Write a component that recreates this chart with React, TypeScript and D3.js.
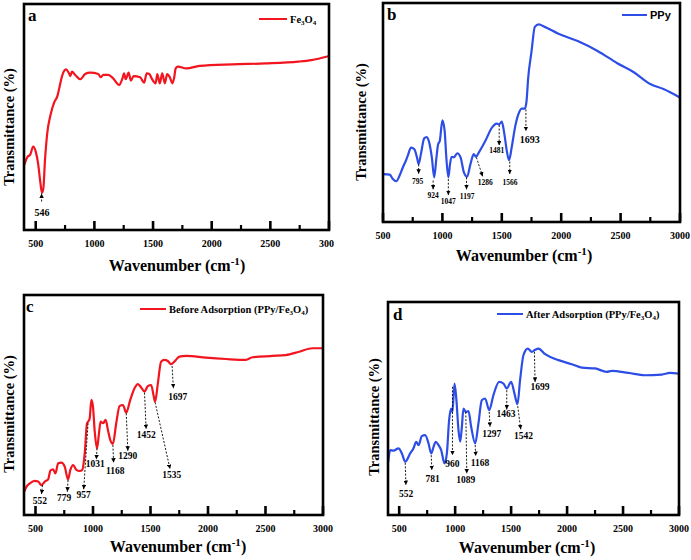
import React from "react";
import * as d3 from "d3";

// ---------- DATA ----------
const fe3o4Wn = [402,430,452,478,500,520,537,553,565,579,598,626,660,683,697,716,739,758,781,795,809,837,879,921,963,1034,1053,1076,1118,1160,1211,1239,1253,1267,1292,1311,1334,1390,1424,1446,1469,1488,1522,1536,1558,1578,1601,1620,1643,1665,1679,1693,1713,1783,1896,2176,2457,2738,2850,2995];
const fe3o4T = [28.8,32.4,33.2,36.9,34.7,29.5,22.1,16.5,18.4,31.0,42.8,50.9,56.8,59.0,61.9,66.4,70.1,71.1,69.6,68.1,70.1,68.6,66.7,69.0,69.6,69.0,67.6,68.6,68.6,67.1,64.2,67.1,69.3,66.7,69.6,66.1,68.1,67.6,65.2,69.3,69.0,67.1,64.9,69.0,64.9,69.3,64.9,69.0,67.6,64.9,67.1,71.5,72.3,71.5,72.6,73.3,73.7,74.5,75.2,76.9];

const ppyWn = [502,556,583,611,639,667,694,708,736,764,786,800,819,847,867,889,911,931,950,964,978,1000,1019,1033,1050,1064,1078,1097,1125,1153,1181,1208,1236,1264,1283,1306,1361,1417,1458,1478,1500,1522,1542,1561,1583,1611,1639,1667,1694,1708,1722,1750,1778,1811,1861,1972,2139,2306,2472,2611,2750,2861,2995];
const ppyT = [21.9,21.6,19.6,18.6,21.1,24.9,28.2,30.2,34.0,33.2,29.5,26.4,31.0,38.2,38.8,36.3,29.5,20.4,29.5,35.5,37.0,46.4,41.5,29.5,20.4,26.4,29.8,29.5,31.4,29.5,22.7,20.7,26.4,31.0,29.8,31.7,37.0,43.1,44.9,44.6,45.8,40.0,32.5,28.2,34.0,43.1,49.1,51.8,51.8,55.1,65.7,77.8,89.1,90.2,89.1,86.1,82.6,78.1,72.5,68.4,63.0,60.7,57.0];

const beforeWn = [402,422,451,494,523,552,581,610,630,653,673,697,725,754,783,803,827,855,884,907,928,948,957,971,986,1000,1014,1035,1052,1066,1087,1110,1130,1150,1173,1202,1231,1260,1289,1324,1361,1390,1419,1448,1477,1506,1526,1540,1564,1592,1621,1650,1679,1708,1751,1809,1983,2156,2329,2387,2561,2676,2792,2908,2995];
const beforeT = [10.6,12.9,14.4,15.5,15.2,13.6,15.2,16.2,20.2,20.8,18.9,23.5,23.8,22.0,16.2,20.5,22.7,20.5,20.0,20.5,28.0,41.7,42.4,43.9,52.3,49.2,38.6,30.3,37.1,42.4,41.7,43.2,38.6,34.1,32.3,41.7,49.5,50.0,46.5,52.3,57.6,59.5,58.0,56.1,58.6,59.1,54.5,51.5,59.8,69.7,70.5,70.0,68.6,69.7,72.0,72.3,71.5,70.9,70.5,71.7,72.3,72.7,74.2,75.8,75.8];

const afterWn = [402,420,449,494,524,554,598,628,652,673,702,732,762,786,807,827,851,875,905,926,946,964,976,994,1009,1030,1045,1060,1074,1095,1119,1143,1179,1208,1238,1268,1304,1342,1393,1432,1461,1500,1530,1557,1580,1610,1649,1685,1708,1744,1804,1923,2042,2131,2250,2354,2399,2548,2696,2845,2919,2998];
const afterT = [25.0,30.5,30.2,31.3,28.9,25.0,28.9,31.3,34.4,32.8,37.0,37.5,33.6,28.9,32.0,34.4,32.8,30.5,24.2,28.9,44.5,50.0,48.4,61.7,55.5,39.8,34.4,41.4,50.0,48.4,48.8,41.4,33.6,43.0,53.9,54.7,49.2,56.3,62.5,61.7,59.4,62.5,57.0,52.0,63.3,75.0,78.1,76.6,77.3,78.1,75.5,72.7,70.8,69.2,68.8,67.2,67.7,66.7,65.6,65.9,66.7,66.4];

const majorTicks = [500, 1000, 1500, 2000, 2500, 3000];
const minorTicks = [750, 1250, 1750, 2250, 2750];

// peak annotations: label, arrow tail (x0,y0), arrow head (x1,y1), label baseline (lx,ly)
type Ann = { t: string; x0: number; y0: number; x1: number; y1: number; lx: number; ly: number; big?: boolean };
const annA: Ann[] = [
  { t: "546", x0: 550, y0: 12.6, x1: 550, y1: 16.2, lx: 554, ly: 6.3 },
];
const annB: Ann[] = [
  { t: "795", x0: 800, y0: 26.3, x1: 800, y1: 22.0, lx: 792, ly: 17.4 },
  { t: "924", x0: 922, y0: 18.9, x1: 922, y1: 14.9, lx: 922, ly: 11.0 },
  { t: "1047", x0: 1050, y0: 19.6, x1: 1050, y1: 12.3, lx: 1050, ly: 8.0 },
  { t: "1197", x0: 1203, y0: 20.4, x1: 1203, y1: 14.9, lx: 1208, ly: 10.3 },
  { t: "1286", x0: 1286, y0: 29.5, x1: 1339, y1: 20.8, lx: 1361, ly: 17.1 },
  { t: "1481", x0: 1478, y0: 44.3, x1: 1478, y1: 35.0, lx: 1458, ly: 31.7 },
  { t: "1566", x0: 1567, y0: 27.6, x1: 1567, y1: 21.9, lx: 1569, ly: 17.1 },
  { t: "1693", x0: 1703, y0: 51.4, x1: 1703, y1: 41.5, lx: 1736, ly: 36.3, big: true },
];
const annC: Ann[] = [
  { t: "552", x0: 561, y0: 13.6, x1: 552, y1: 9.5, lx: 538, ly: 5.0 },
  { t: "779", x0: 783, y0: 15.9, x1: 777, y1: 10.6, lx: 749, ly: 6.5 },
  { t: "957", x0: 957, y0: 41.7, x1: 919, y1: 11.7, lx: 919, ly: 7.6 },
  { t: "1031", x0: 1035, y0: 30.3, x1: 1029, y1: 25.3, lx: 1020, ly: 22.0 },
  { t: "1168", x0: 1173, y0: 31.8, x1: 1179, y1: 23.8, lx: 1194, ly: 18.6 },
  { t: "1290", x0: 1289, y0: 46.2, x1: 1303, y1: 29.2, lx: 1303, ly: 25.3 },
  { t: "1452", x0: 1448, y0: 55.6, x1: 1462, y1: 39.1, lx: 1462, ly: 35.2 },
  { t: "1535", x0: 1540, y0: 51.2, x1: 1670, y1: 20.9, lx: 1685, ly: 17.0 },
  { t: "1697", x0: 1688, y0: 67.7, x1: 1699, y1: 57.6, lx: 1737, ly: 52.3 },
];
const annD: Ann[] = [
  { t: "552", x0: 554, y0: 24.5, x1: 560, y1: 14.1, lx: 562, ly: 8.3 },
  { t: "781", x0: 786, y0: 28.1, x1: 792, y1: 21.1, lx: 798, ly: 15.6 },
  { t: "960", x0: 976, y0: 60.2, x1: 976, y1: 28.1, lx: 976, ly: 22.7 },
  { t: "1089", x0: 1095, y0: 48.4, x1: 1104, y1: 19.5, lx: 1095, ly: 15.2 },
  { t: "1168", x0: 1179, y0: 32.8, x1: 1184, y1: 27.7, lx: 1223, ly: 23.0 },
  { t: "1297", x0: 1304, y0: 48.4, x1: 1312, y1: 41.4, lx: 1327, ly: 36.4 },
  { t: "1463", x0: 1461, y0: 58.6, x1: 1461, y1: 49.5, lx: 1455, ly: 45.8 },
  { t: "1542", x0: 1559, y0: 51.1, x1: 1586, y1: 40.2, lx: 1610, ly: 35.5 },
  { t: "1699", x0: 1708, y0: 76.6, x1: 1714, y1: 62.5, lx: 1759, ly: 58.6 },
];

const RED = "#f2141e";
const BLUE = "#2d4ee6";
const SERIF = "Liberation Serif, DejaVu Serif, serif";
const SANS = "Liberation Sans, Arial, sans-serif";

type Cfg = {
  id: string; letter: string; wn: number[]; tv: number[]; color: string; ann: Ann[];
  domain: [number, number]; x0: number; x1: number; y0: number; y1: number;
  tickY: number; titleY: number; titleX: number; yTitleX: number; yTitleY: number;
  letterX: number; letterY: number; legX0: number; legX1: number; legY: number;
  legend: React.ReactNode; legendSans?: boolean; clipW?: number; annSize?: number;
};

const serifStyle = { fontFamily: SERIF, fontWeight: 700 } as React.CSSProperties;

function Panel({ c }: { c: Cfg }) {
  const x = d3.scaleLinear().domain(c.domain).range([c.x0, c.x1]);
  const y = d3.scaleLinear().domain([0, 100]).range([c.y1, c.y0]);
  const pts: [number, number][] = c.wn.map((w, i) => [w, c.tv[i]]);
  const line = d3.line<[number, number]>().x(d => x(d[0])).y(d => y(d[1])).curve(d3.curveMonotoneX);
  const majors = majorTicks.filter(t => t >= c.domain[0] && t <= c.domain[1]);
  const minors = minorTicks.filter(t => t >= c.domain[0] && t <= c.domain[1]);
  return (
    <g clipPath={c.clipW ? `url(#clip-${c.id})` : undefined}>
      {c.clipW ? (
        <defs>
          <clipPath id={`clip-${c.id}`}>
            <rect x={0} y={0} width={c.clipW} height={560} />
          </clipPath>
        </defs>
      ) : null}
      <path d={line(pts) || ""} fill="none" stroke={c.color} strokeWidth={2.2} strokeLinejoin="round" />
      {majors.map(t => (
        <line key={"M" + t} x1={x(t)} x2={x(t)} y1={c.y1} y2={c.y1 - 9} stroke="#000" strokeWidth={2.6} />
      ))}
      {minors.map(t => (
        <line key={"m" + t} x1={x(t)} x2={x(t)} y1={c.y1} y2={c.y1 - 5} stroke="#000" strokeWidth={2.2} />
      ))}
      <rect x={c.x0} y={c.y0} width={c.x1 - c.x0} height={c.y1 - c.y0} fill="none" stroke="#000" strokeWidth={2.6} />
      {majors.map(t => (
        <text key={"l" + t} x={x(t)} y={c.tickY} textAnchor="middle" style={{ ...serifStyle, fontSize: 10 }}>{t}</text>
      ))}
      <text x={c.titleX} y={c.titleY} textAnchor="middle" style={{ ...serifStyle, fontSize: 16 }}>
        Wavenumber (cm<tspan style={{ fontSize: 11 }} dy={-6}>-1</tspan><tspan dy={6}>)</tspan>
      </text>
      <text transform={`translate(${c.yTitleX},${c.yTitleY}) rotate(-90)`} textAnchor="middle" dominantBaseline="central"
        style={{ ...serifStyle, fontSize: 14.5 }}>Transmittance (%)</text>
      <text x={c.letterX} y={c.letterY} style={{ ...serifStyle, fontSize: 17 }}>{c.letter}</text>
      <line x1={c.legX0} x2={c.legX1} y1={c.legY} y2={c.legY} stroke={c.color} strokeWidth={2} />
      <text x={c.legX1 + 3} y={c.legY + 4}
        style={c.legendSans ? { fontFamily: SANS, fontWeight: 700, fontSize: 11 } : { ...serifStyle, fontSize: 10.5 }}>{c.legend}</text>
      {c.ann.map(a => (
        <g key={a.t}>
          <line x1={x(a.x0)} y1={y(a.y0)} x2={x(a.x1)} y2={y(a.y1)} stroke="#000" strokeWidth={0.9}
            strokeDasharray="2,1.6" markerEnd="url(#arrowhead)" />
          <text x={x(a.lx)} y={y(a.ly)} textAnchor="middle"
            style={{ ...serifStyle, fontSize: a.big ? 10 : (c.annSize || 10) }}>{a.t}</text>
        </g>
      ))}
    </g>
  );
}

const sub = (s: string) => <tspan style={{ fontSize: 7 }} dy={2}>{s}</tspan>;
const feLegend = (<>Fe{sub("3")}<tspan dy={-2}>O</tspan>{sub("4")}</>);
const beforeLegend = (<>Before Adsorption (PPy/Fe{sub("3")}<tspan dy={-2}>O</tspan>{sub("4")}<tspan dy={-2}>)</tspan></>);
const afterLegend = (<>After Adsorption (PPy/Fe{sub("3")}<tspan dy={-2}>O</tspan>{sub("4")}<tspan dy={-2}>)</tspan></>);

const panels: Cfg[] = [
  { id: "a", letter: "a", wn: fe3o4Wn, tv: fe3o4T, color: RED, ann: annA, domain: [400, 3000],
    x0: 24, x1: 329, y0: 4, y1: 230, tickY: 247, titleY: 271, titleX: 177, yTitleX: 9, yTitleY: 127,
    letterX: 28, letterY: 21, legX0: 259, legX1: 287, legY: 19, legend: feLegend, clipW: 334 },
  { id: "b", letter: "b", wn: ppyWn, tv: ppyT, color: BLUE, ann: annB, domain: [500, 3000],
    x0: 383, x1: 680, y0: 3, y1: 222, tickY: 239, titleY: 261, titleX: 524, yTitleX: 361, yTitleY: 122,
    letterX: 387, letterY: 20, legX0: 622, legX1: 647, legY: 15, legend: "PPy", legendSans: true, annSize: 7.5 },
  { id: "c", letter: "c", wn: beforeWn, tv: beforeT, color: RED, ann: annC, domain: [400, 3000],
    x0: 24, x1: 323, y0: 295, y1: 515, tickY: 532, titleY: 552, titleX: 178, yTitleX: 9, yTitleY: 414,
    letterX: 26, letterY: 312, legX0: 140, legX1: 166, legY: 309, legend: beforeLegend, annSize: 9.5 },
  { id: "d", letter: "d", wn: afterWn, tv: afterT, color: BLUE, ann: annD, domain: [400, 3000],
    x0: 388, x1: 679, y0: 302, y1: 515, tickY: 532, titleY: 553, titleX: 527, yTitleX: 374, yTitleY: 417,
    letterX: 393, letterY: 320, legX0: 497, legX1: 523, legY: 314, legend: afterLegend, annSize: 9.5 },
];

export default function App() {
  return (
    <svg width={691} height={560} viewBox="0 0 691 560"
      style={{ position: "absolute", left: 0, top: 0, display: "block", background: "#fff" }}>
      <defs>
        <marker id="arrowhead" viewBox="0 0 6 6" refX={6} refY={3} markerWidth={4.5} markerHeight={4.5}
          markerUnits="userSpaceOnUse" orient="auto">
          <path d="M0,0 L6,3 L0,6 Z" fill="#000" />
        </marker>
      </defs>
      <rect x={0} y={0} width={691} height={560} fill="#fff" />
      {panels.map(p => <Panel key={p.id} c={p} />)}
    </svg>
  );
}
